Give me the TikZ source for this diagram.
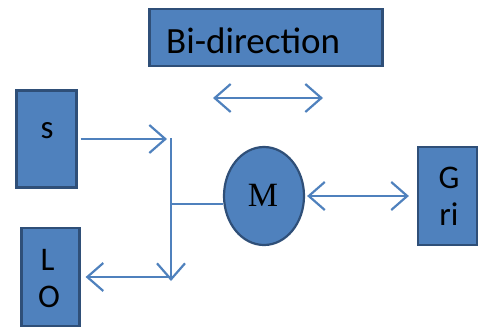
\documentclass[tikz,border=0pt]{standalone}
\usepackage{fontspec}
\setmainfont{Carlito}
\newfontfamily\serifM{Liberation Serif}
\usetikzlibrary{arrows.meta,shapes.geometric,calc}
\definecolor{boxblue}{HTML}{4F81BD}
\definecolor{boxedge}{HTML}{2F4F78}
\definecolor{linkblue}{HTML}{4F81BD}
\begin{document}
\begin{tikzpicture}[x=1pt,y=-1pt,
  blk/.style={draw=boxedge,fill=boxblue,line width=2.2pt,inner sep=0pt},
  lbl/.style={inner sep=0pt,font=\fontsize{33}{38}\selectfont},
  arr/.style={draw=linkblue,line width=2.2pt,-{Straight Barb[length=16pt,width=28pt]}},
  darr/.style={draw=linkblue,line width=2.2pt,{Straight Barb[length=16pt,width=28pt]}-{Straight Barb[length=16pt,width=28pt]}},
  thin/.style={draw=linkblue,line width=1.3pt}]
\useasboundingbox (0,0) rectangle (478,327);
% boxes
\node[blk,minimum width=233pt,minimum height=57pt] (bi) at (266,37.5) {};
\node[inner sep=0pt,anchor=base west,font=\fontsize{37}{42}\selectfont] (bit) at (166,53) {Bi-direction};
\node[blk,minimum width=60pt,minimum height=97pt] (s) at (46.5,139) {};
\node[lbl,anchor=base] (st) at (47,138.5) {s};
\node[blk,minimum width=58pt,minimum height=98pt] (lo) at (50.5,277) {};
\node[lbl,anchor=base] (lt) at (47.5,270) {L};
\node[lbl,anchor=base] (ot) at (49,307) {O};
\node[blk,minimum width=59pt,minimum height=98pt] (g) at (447.5,196) {};
\node[lbl,anchor=base] (gt) at (449,188) {G};
\node[lbl,anchor=base] (rt) at (449,225) {ri};
\node[blk,ellipse,minimum width=80pt,minimum height=98pt] (m) at (264,196) {};
\node[inner sep=0pt,anchor=base,font=\serifM\fontsize{34}{38}\selectfont] (mt) at (263,206.5) {M};
% junction coordinates
\coordinate (jt) at (171,138);
\coordinate (jm) at (171,204);
\coordinate (jb) at (171,277);
\coordinate (ta) at (213,98);
\coordinate (tb) at (323,98);
% connectors
\draw[darr] (ta) -- (tb);
\draw[arr] ([xshift=3pt]s.east |- 0,139) -- ([xshift=-4pt]jt |- 0,139);
\draw[arr] (jt) -- ([yshift=-4pt]jb);
\draw[arr] (jb) -- ([xshift=5pt]lo.east |- jb);
\draw[thin] (jm) -- (m.west |- jm);
\draw[darr,shorten <=2pt,shorten >=8pt] (m.east) -- (g.west);
\end{tikzpicture}
\end{document}
